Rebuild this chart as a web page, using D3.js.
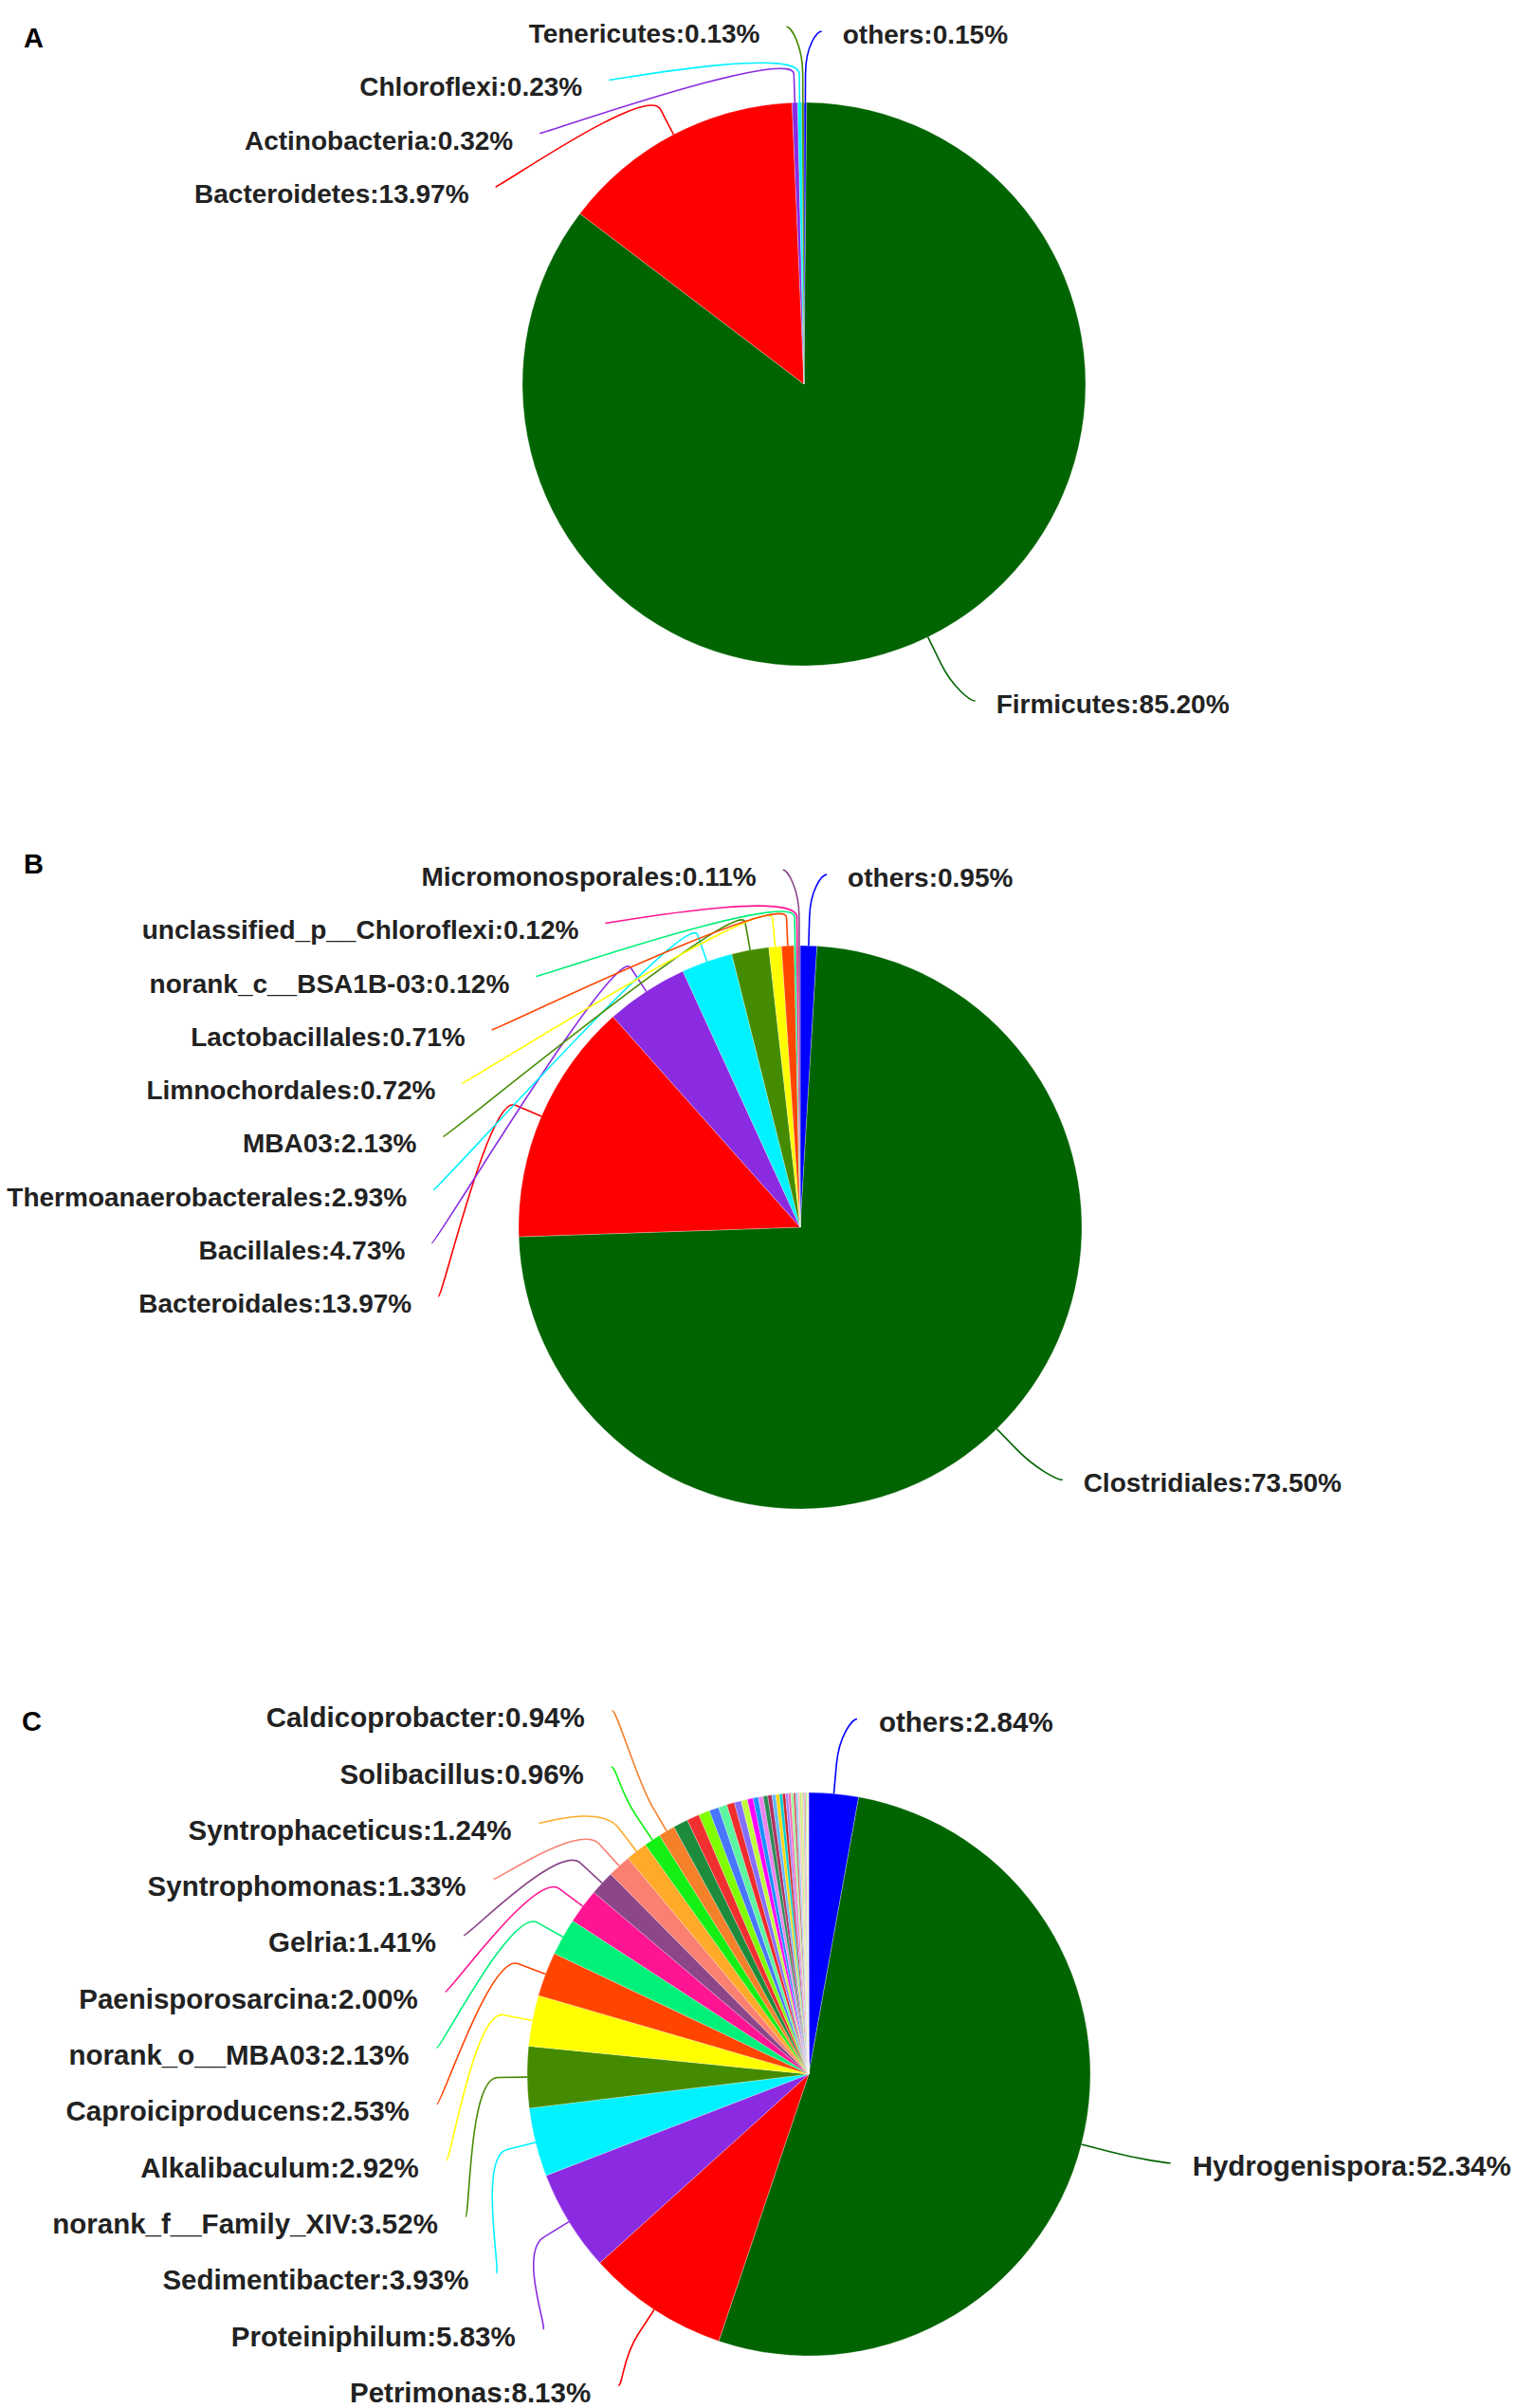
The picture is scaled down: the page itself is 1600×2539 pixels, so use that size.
<!DOCTYPE html>
<html><head><meta charset="utf-8">
<script src="https://cdn.jsdelivr.net/npm/d3@7"></script>
<style>html,body{margin:0;padding:0;background:#fff}</style>
</head><body>
<script>
// ---------------- data ----------------
const panelLetters = ["A", "B", "C"];

const aNames = ["others", "Firmicutes", "Bacteroidetes", "Actinobacteria", "Chloroflexi", "Tenericutes"];
const aValues = [0.15, 85.20, 13.97, 0.32, 0.23, 0.13];

const bNames = ["others", "Clostridiales", "Bacteroidales", "Bacillales", "Thermoanaerobacterales", "MBA03",
  "Limnochordales", "Lactobacillales", "norank_c__BSA1B-03", "unclassified_p__Chloroflexi", "Micromonosporales"];
const bValues = [0.95, 73.50, 13.97, 4.73, 2.93, 2.13, 0.72, 0.71, 0.12, 0.12, 0.11];

const cNames = ["others", "Hydrogenispora", "Petrimonas", "Proteiniphilum", "Sedimentibacter", "norank_f__Family_XIV",
  "Alkalibaculum", "Caproiciproducens", "norank_o__MBA03", "Paenisporosarcina", "Gelria", "Syntrophomonas",
  "Syntrophaceticus", "Solibacillus", "Caldicoprobacter"];
const cValues = [2.84, 52.34, 8.13, 5.83, 3.93, 3.52, 2.92, 2.53, 2.13, 2.00, 1.41, 1.33, 1.24, 0.96, 0.94];
// remaining small genera in panel C (unlabelled slices)
const cMinorValues = [0.85, 0.72, 0.64, 0.55, 0.49, 0.44, 0.40, 0.36, 0.33, 0.30, 0.28, 0.26, 0.24, 0.22, 0.20,
  0.18, 0.17, 0.16, 0.15, 0.14, 0.13, 0.12, 0.11, 0.10, 0.09, 0.08, 0.07, 0.06, 0.05, 0.04, 0.02];

const othersColor = "#0000FF";
const palette = ["#006400", "#FF0000", "#8A2BE2", "#00F2FF", "#458B00", "#FFFF00", "#FF4500", "#00F07A",
  "#FF1493", "#8B4789", "#FA8072", "#FFAA28", "#14F014", "#F5802A", "#1E8B3C", "#F03030", "#7FFF00",
  "#4876FF", "#5CF5A0", "#EE2C2C", "#8470FF", "#C0FF3E", "#FF00FF", "#1E90FF", "#EE82EE", "#2E8B57",
  "#B03060", "#63B8FF", "#FFD700", "#00CED1", "#CD2626", "#AB82FF", "#FF6EB4", "#9AFF9A", "#CD5C5C",
  "#87CEFA", "#FFC1C1", "#BCEE68", "#EEDD82", "#B0C4DE", "#F08080", "#98FB98", "#FFE4B5", "#D8BFD8",
  "#EEE8AA", "#D3D3D3"];

// ---------------- layout config ----------------
const W = 1600, H = 2539;
const panels = [
  {letter: panelLetters[0], names: aNames, values: aValues, minor: [],
   cx: 848, cy: 405, r: 297, len: 75, len2: 17, brk: 30, font: 28, h: 56.3, top: 0, bottom: 820,
   gapL: 28, gapR: 22, lx: 25, ly: 49.5},
  {letter: panelLetters[1], names: bNames, values: bValues, minor: [],
   cx: 844, cy: 1294, r: 297, len: 75, len2: 17, brk: 30, font: 28, h: 56.25, top: 889, bottom: 1720,
   gapL: 28, gapR: 22, lx: 25, ly: 921},
  {letter: panelLetters[2], names: cNames, values: cValues, minor: cMinorValues,
   cx: 853, cy: 2187, r: 297, len: 79, len2: 17.5, brk: 31, font: 29.5, h: 59.3, top: 1774, bottom: 2545,
   gapL: 29, gapR: 23, lx: 23, ly: 1825}
];

const FONT = "'Liberation Sans', Arial, Helvetica, sans-serif";
const svg = d3.select("body").append("svg")
  .attr("width", W).attr("height", H).attr("viewBox", `0 0 ${W} ${H}`);
svg.append("rect").attr("width", W).attr("height", H).attr("fill", "#fff");

function layoutSide(list, h, minB, maxB) {
  const n = list.length;
  if (!n) return;
  list.sort((a, b) => a.ny - b.ny);
  const ys = list.map(d => d.ny);
  let total = 0;
  for (let i = 1; i < n; i++) {
    const need = ys[i - 1] + h;
    if (ys[i] < need) { total += need - ys[i]; ys[i] = need; }
  }
  if (total > 0) { const avg = total / n; for (let i = 0; i < n; i++) ys[i] -= avg; }
  if (ys[0] < minB) { ys[0] = minB; for (let i = 1; i < n; i++) ys[i] = Math.max(ys[i], ys[i - 1] + h); }
  if (ys[n - 1] > maxB) { ys[n - 1] = maxB; for (let i = n - 2; i >= 0; i--) ys[i] = Math.min(ys[i], ys[i + 1] - h); }
  if (ys[0] < minB - 0.5) { const step = (maxB - minB) / Math.max(1, n - 1); for (let i = 0; i < n; i++) ys[i] = minB + i * step; }
  list.forEach((d, i) => d.y = ys[i]);
}

panels.forEach(P => {
  const items = P.names.map((name, i) => ({
    name, value: P.values[i], label: true,
    color: name === "others" ? othersColor : palette[i - 1]
  }));
  P.minor.forEach((v, j) => items.push({name: "", value: v, label: false, color: palette[P.names.length - 1 + j]}));

  const pie = d3.pie().sort(null).value(d => d.value).startAngle(0).endAngle(2 * Math.PI);
  const arcs = pie(items);
  const arc = d3.arc().innerRadius(0).outerRadius(P.r);

  const g = svg.append("g").attr("transform", `translate(${P.cx},${P.cy})`);
  g.selectAll("path.slice").data(arcs).join("path")
    .attr("class", "slice")
    .attr("d", arc)
    .attr("fill", d => d.data.color)
    .attr("stroke", "#ffffff").attr("stroke-width", 0.5).attr("stroke-opacity", 0.55);

  const R = P.r + P.len;
  const labs = arcs.filter(d => d.data.label).map(d => {
    const mid = (d.startAngle + d.endAngle) / 2;
    const u = [Math.sin(mid), -Math.cos(mid)];
    return {d, u, p0: [u[0] * P.r, u[1] * P.r], nx: u[0] * R, ny: u[1] * R, left: u[0] < 0};
  });
  const left = labs.filter(l => l.left), right = labs.filter(l => !l.left);
  const minB = P.top + P.h / 2 - P.cy, maxB = P.bottom - P.h / 2 - P.cy;
  layoutSide(left, P.h, minB, maxB);
  layoutSide(right, P.h, minB, maxB);

  labs.forEach(l => {
    const dir = l.left ? -1 : 1;
    const dy = l.y;
    const px = Math.abs(dy) < R ? dir * Math.sqrt(R * R - dy * dy) : l.nx;
    const p2 = [px + dir * P.len2, dy];
    const p0 = l.p0;
    const brk = [p0[0] + l.u[0] * P.brk, p0[1] + l.u[1] * P.brk];
    // soft connector: label -> (curve) -> break point -> straight -> slice edge
    const path = d3.path();
    path.moveTo(p2[0], p2[1]);
    path.bezierCurveTo(p2[0] - dir * 5, p2[1], 2 * brk[0] - p0[0], 2 * brk[1] - p0[1], brk[0], brk[1]);
    path.lineTo(p0[0], p0[1]);
    g.append("path").attr("d", path.toString())
      .attr("fill", "none").attr("stroke", l.d.data.color).attr("stroke-width", 1.6);

    g.append("text")
      .attr("x", p2[0] + dir * (l.left ? P.gapL : P.gapR))
      .attr("y", p2[1] + (l.left ? 7 : 3) + 0.358 * P.font)
      .attr("text-anchor", l.left ? "end" : "start")
      .attr("font-family", FONT).attr("font-weight", "bold").attr("font-size", P.font)
      .attr("fill", "#222")
      .text(`${l.d.data.name}:${l.d.data.value.toFixed(2)}%`);
  });

  svg.append("text").attr("x", P.lx).attr("y", P.ly)
    .attr("font-family", FONT).attr("font-weight", "bold").attr("font-size", 29)
    .attr("fill", "#000").text(P.letter);
});
</script>
</body></html>
